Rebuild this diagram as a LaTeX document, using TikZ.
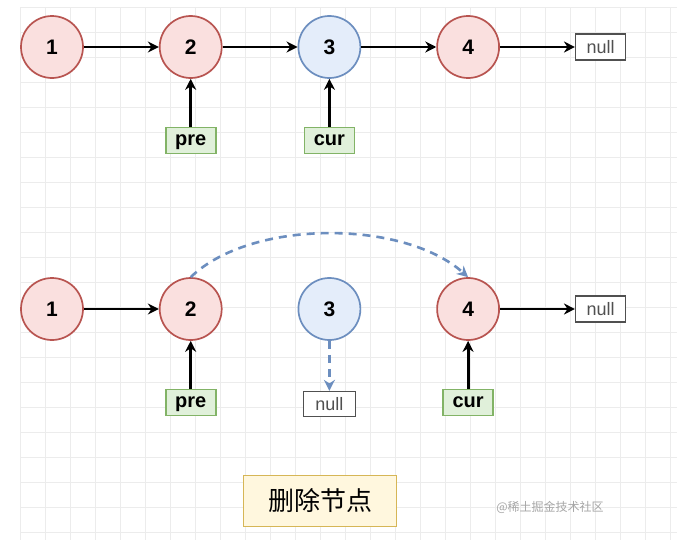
\documentclass[tikz,border=0pt]{standalone}
\usepackage{fontspec}
\setmainfont{Liberation Sans}
\newfontfamily\cjk{Noto Sans CJK SC}
\usetikzlibrary{arrows.meta,positioning}
\definecolor{nodered}{RGB}{184,84,80}
\definecolor{fillred}{RGB}{250,224,223}
\definecolor{nodeblue}{RGB}{108,142,191}
\definecolor{fillblue}{RGB}{228,237,250}
\definecolor{ptrgreen}{RGB}{130,179,102}
\definecolor{fillgreen}{RGB}{224,240,218}
\definecolor{titlegold}{RGB}{214,182,86}
\definecolor{filltitle}{RGB}{255,247,222}
\definecolor{gridgray}{RGB}{236,236,236}
\definecolor{nullgray}{RGB}{80,80,80}

\begin{document}
\begin{tikzpicture}[x=1pt,y=-1pt,
  node distance=48pt and 75pt,
  elem/.style={circle,draw=nodered,fill=fillred,line width=1.7pt,
    minimum size=62pt,inner sep=0pt,font=\fontsize{21}{24}\selectfont\bfseries},
  elemcur/.style={elem,draw=nodeblue,fill=fillblue},
  ptr/.style={draw=ptrgreen,fill=fillgreen,line width=1.6pt,
    minimum width=50pt,minimum height=26pt,inner sep=1pt,
    text height=13pt,text depth=3pt,
    font=\fontsize{20}{22}\selectfont\bfseries},
  nul/.style={draw=nullgray,fill=white,line width=1.4pt,
    minimum width=50pt,minimum height=26pt,inner sep=1pt,
    text=nullgray,font=\fontsize{18}{20}\selectfont},
  titlebox/.style={draw=titlegold,fill=filltitle,line width=1.6pt,
    minimum width=153pt,minimum height=51pt,font=\fontsize{26}{30}\selectfont\cjk},
  gridline/.style={draw=gridgray,line width=0.8pt},
  arr/.style={-{Stealth[length=11pt,width=11pt]},line width=2.8pt},
  darr/.style={arr,draw=nodeblue,line width=2.6pt,dash pattern=on 8pt off 6pt}
]
\useasboundingbox (0,0) rectangle (677,546);
\fill[white] (0,0) rectangle (677,546);
% background grid
\foreach \gx in {20,45,...,670} \draw[gridline] (\gx,7) -- (\gx,540);
\foreach \gy in {7,32,...,532} \draw[gridline] (20,\gy) -- (677,\gy);

% before deletion
\node[elem] (t1) at (52,47) {1};
\node[elem,right=of t1] (t2) {2};
\node[elemcur,right=of t2] (t3) {3};
\node[elem,right=of t3] (t4) {4};
\node[nul,right=of t4] (tnull) {null};
\node[ptr,below=of t2] (tpre) {pre};
\node[ptr,below=of t3] (tcur) {cur};
\draw[arr] (t1)--(t2);
\draw[arr] (t2)--(t3);
\draw[arr] (t3)--(t4);
\draw[arr] (t4)--(tnull);
\draw[arr] (tpre)--(t2);
\draw[arr] (tcur)--(t3);

% after deletion
\node[elem] (b1) at (52,309) {1};
\node[elem,right=of b1] (b2) {2};
\node[elemcur,right=of b2] (b3) {3};
\node[elem,right=of b3] (b4) {4};
\node[nul,right=of b4] (bnull) {null};
\node[nul,below=50pt of b3,minimum height=25pt,minimum width=52pt] (bnull3) {null};
\node[ptr,below=of b2] (bpre) {pre};
\node[ptr,below=of b4] (bcur) {cur};
\draw[arr] (b1)--(b2);
\draw[arr] (b4)--(bnull);
\draw[arr] (bpre)--(b2);
\draw[arr] (bcur)--(b4);
\draw[darr] (b2.north) .. controls +(60,-58) and +(-65,-58) .. (b4.north);
\draw[darr] (b3)--(bnull3);

\node[titlebox] (caption) at (320,501) {删除节点};
\node[text=gray!70,font=\fontsize{12}{14}\selectfont\cjk] (watermark) at (550,507) {@稀土掘金技术社区};
\end{tikzpicture}
\end{document}
